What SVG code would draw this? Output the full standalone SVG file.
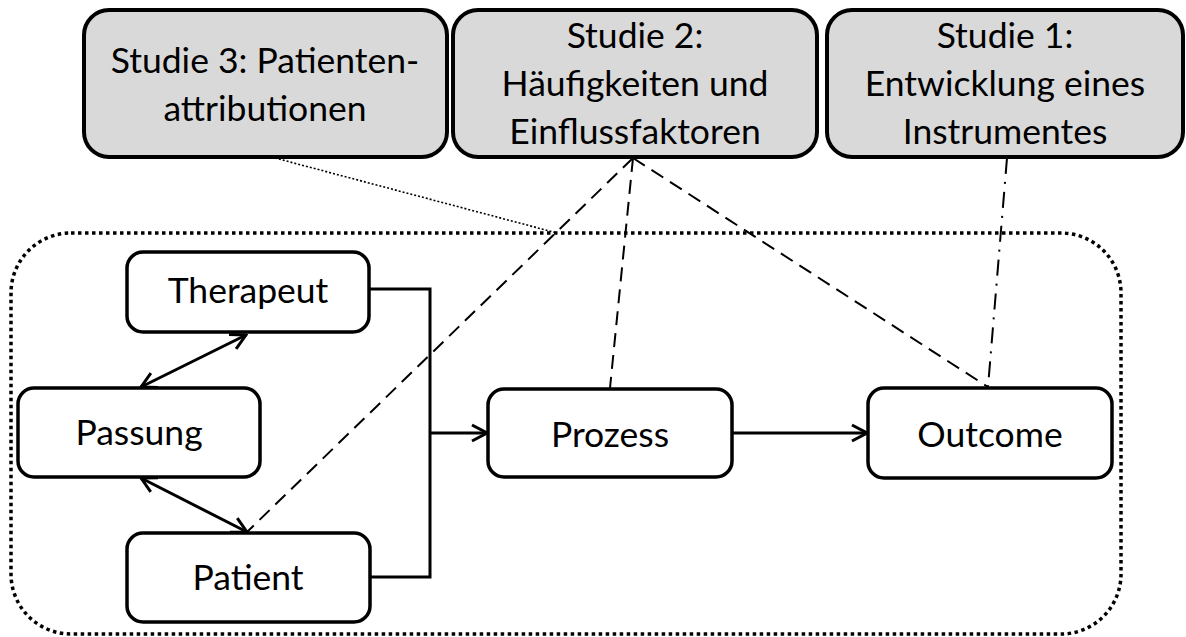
<svg xmlns="http://www.w3.org/2000/svg" width="1186" height="637" viewBox="0 0 1186 637">
<defs>
<style>
.study{fill:#d9d9d9;stroke:#000;stroke-width:4}
.node{fill:#fff;stroke:#000;stroke-width:3.5}
text{font-family:Lato,"Open Sans",sans-serif;font-size:35.5px;fill:#000;text-anchor:middle}
.ln{fill:none;stroke:#000;stroke-width:3}
.dash{fill:none;stroke:#000;stroke-width:2;stroke-dasharray:14 8}
.dashdot{fill:none;stroke:#000;stroke-width:2;stroke-dasharray:16 8 2 8}
.dot{fill:none;stroke:#000;stroke-width:1.6;stroke-dasharray:2 2}
.container{fill:none;stroke:#000;stroke-width:3.5;stroke-dasharray:3.5 3.5}
</style>
<marker id="ah" viewBox="0 0 20 20" refX="18" refY="10" markerWidth="20" markerHeight="20" markerUnits="userSpaceOnUse" orient="auto-start-reverse">
<path d="M3,2 L18,10 L3,18" fill="none" stroke="#000" stroke-width="3"/>
</marker>
</defs>
<rect class="container" x="11" y="233" width="1110" height="401" rx="60" ry="60"/>
<g id="connectors">
<line class="dot" x1="275" y1="158" x2="557" y2="233"/>
<line class="dash" x1="633" y1="158" x2="247" y2="532"/>
<line class="dash" x1="633" y1="158" x2="610" y2="388"/>
<line class="dash" x1="633" y1="158" x2="988" y2="387"/>
<line class="dashdot" x1="1007" y1="158" x2="988" y2="387"/>
<polyline class="ln" points="370,289 430,289 430,577 370,577"/>
<line class="ln" x1="430" y1="433" x2="487" y2="433" marker-end="url(#ah)"/>
<line class="ln" x1="732" y1="433" x2="867" y2="433" marker-end="url(#ah)"/>
<line class="ln" x1="246" y1="335" x2="141" y2="387" marker-start="url(#ah)" marker-end="url(#ah)"/>
<line class="ln" x1="141" y1="478" x2="247" y2="532" marker-start="url(#ah)" marker-end="url(#ah)"/>
</g>
<g id="studie3">
<rect class="study" x="84" y="10" width="363" height="147" rx="25" ry="25"/>
<text x="265" y="73">Studie 3: Patienten-</text>
<text x="265" y="121">attributionen</text>
</g>
<g id="studie2">
<rect class="study" x="453" y="10" width="364" height="147" rx="25" ry="25"/>
<text x="635" y="48">Studie 2:</text>
<text x="635" y="96">Häufigkeiten und</text>
<text x="635" y="144">Einflussfaktoren</text>
</g>
<g id="studie1">
<rect class="study" x="827" y="10" width="356" height="147" rx="25" ry="25"/>
<text x="1005" y="48">Studie 1:</text>
<text x="1005" y="96">Entwicklung eines</text>
<text x="1005" y="144">Instrumentes</text>
</g>
<g id="therapeut">
<rect class="node" x="127" y="252" width="242" height="80" rx="16" ry="16"/>
<text x="248" y="303">Therapeut</text>
</g>
<g id="passung">
<rect class="node" x="18" y="388" width="242" height="89" rx="16" ry="16"/>
<text x="139" y="445">Passung</text>
</g>
<g id="patient">
<rect class="node" x="127" y="533" width="243" height="89" rx="16" ry="16"/>
<text x="248" y="590">Patient</text>
</g>
<g id="prozess">
<rect class="node" x="488" y="389" width="244" height="88" rx="16" ry="16"/>
<text x="610" y="447">Prozess</text>
</g>
<g id="outcome">
<rect class="node" x="868" y="388" width="244" height="90" rx="16" ry="16"/>
<text x="990" y="447">Outcome</text>
</g>
</svg>
